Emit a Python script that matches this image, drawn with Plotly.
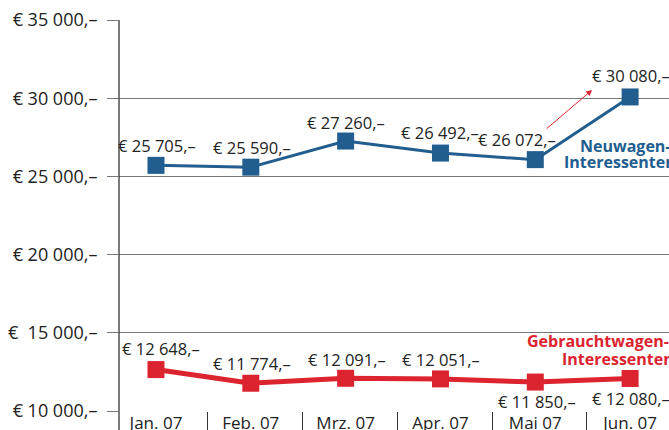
import plotly.graph_objects as go

months = ["Jan. 07", "Feb. 07", "Mrz. 07", "Apr. 07", "Mai 07", "Jun. 07"]
neuwagen = [25705, 25590, 27260, 26492, 26072, 30080]
gebraucht = [12648, 11774, 12091, 12051, 11850, 12080]
y_ticks = [10000, 15000, 20000, 25000, 30000, 35000]
y_ticktext = ["€ 10 000,–", "€  15 000,–", "€ 20 000,–", "€ 25 000,–", "€ 30 000,–", "€ 35 000,–"]

BLUE = "#215e8f"
RED = "#dc2430"
FONT = "Open Sans"

def fmt(v):
    s = f"{v:,}".replace(",", " ")
    return f"€ {s},–"

x = list(range(len(months)))

fig = go.Figure()
fig.add_trace(go.Scatter(x=x, y=neuwagen, mode="lines+markers",
                         line=dict(color=BLUE, width=3),
                         marker=dict(symbol="square", size=17, color=BLUE),
                         hoverinfo="skip", showlegend=False, cliponaxis=False))
fig.add_trace(go.Scatter(x=x, y=gebraucht, mode="lines+markers",
                         line=dict(color=RED, width=5),
                         marker=dict(symbol="square", size=17, color=RED),
                         hoverinfo="skip", showlegend=False, cliponaxis=False))

# label offsets (pixels) per point
blue_off = [(1, -20), (1, -20), (0, -19), (0, -21), (-18, -20), (1, -21)]
red_off = [(5, -21), (1, -20), (1, -19), (1, -19), (2, 19), (1, 20)]

LABEL_FONT = dict(family=FONT, size=16.5, color="#222")
annotations = []
for i, v in enumerate(neuwagen):
    dx, dy = blue_off[i]
    annotations.append(dict(x=i, y=v, text=fmt(v), showarrow=False, xshift=dx, yshift=-dy,
                            font=LABEL_FONT))
for i, v in enumerate(gebraucht):
    dx, dy = red_off[i]
    annotations.append(dict(x=i, y=v, text=fmt(v), showarrow=False, xshift=dx, yshift=-dy,
                            font=LABEL_FONT))

# red arrow pointing to the June value
annotations.append(dict(x=5, y=neuwagen[5], ax=-47, ay=40, xshift=-38, yshift=7,
                        text="", showarrow=True, arrowhead=2, arrowsize=1.2,
                        arrowwidth=1, arrowcolor=RED))

# series labels
bold = dict(family=FONT, size=16, color=BLUE, weight="bold")
annotations.append(dict(x=5, y=neuwagen[5], text="Neuwagen-", showarrow=False,
                        xanchor="left", xshift=-52, yshift=-49, font=bold))
annotations.append(dict(x=5, y=neuwagen[5], text="Interessenten", showarrow=False,
                        xanchor="left", xshift=-68, yshift=-65, font=bold))
boldr = dict(family=FONT, size=16, color=RED, weight="bold")
annotations.append(dict(x=5, y=gebraucht[5], text="Gebrauchtwagen-", showarrow=False,
                        xanchor="left", xshift=-105, yshift=37, font=boldr))
annotations.append(dict(x=5, y=gebraucht[5], text="Interessenten", showarrow=False,
                        xanchor="left", xshift=-70, yshift=19, font=boldr))

fig.update_layout(
    width=669, height=430,
    margin=dict(l=119, r=0, t=20, b=19),
    paper_bgcolor="white", plot_bgcolor="white",
    annotations=annotations,
    shapes=[dict(type="line", xref="paper", yref="paper", x0=0, x1=0, y0=-0.06, y1=1,
                 line=dict(color="#222", width=1.2))],
    font=dict(family=FONT),
)
fig.update_xaxes(range=[-0.39, 5.41], tickvals=x, ticktext=months, ticks="",
                 showgrid=False, zeroline=False, showline=False, automargin=False,
                 tickfont=dict(family=FONT, size=17, color="#222"),
                 minor=dict(ticks="outside", tick0=0.545, dtick=1, ticklen=22,
                            tickcolor="#333", tickwidth=1.2, showgrid=False))
fig.update_yaxes(range=[10000, 35000], tickvals=y_ticks, ticktext=y_ticktext,
                 showgrid=True, gridcolor="#777", gridwidth=1.2, zeroline=False,
                 showline=False, ticks="outside", ticklen=11, tickcolor="#777",
                 tickwidth=1.2, ticklabelstandoff=6, automargin=False,
                 tickfont=dict(family=FONT, size=18, color="#222"))

fig.write_html("out.html", config={"displayModeBar": False},
               post_script="document.body.style.margin='0';document.body.style.overflow='hidden';")
